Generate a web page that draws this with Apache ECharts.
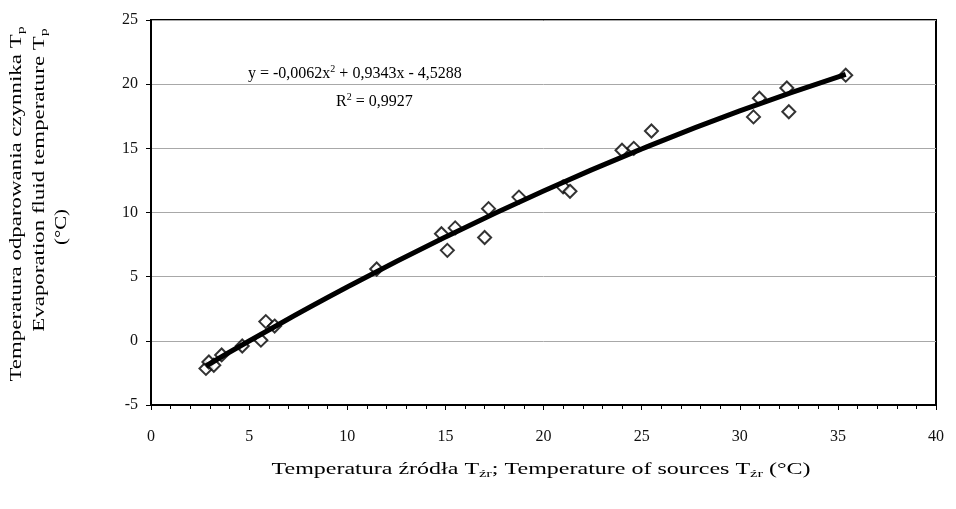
<!DOCTYPE html>
<html><head><meta charset="utf-8">
<script src="https://cdn.jsdelivr.net/npm/echarts@6/dist/echarts.min.js"></script>
<style>html,body{margin:0;padding:0;background:#fff}#c{width:956px;height:509px}</style>
</head><body><div id="c"></div>
<script>
// Measured points (x: source temperature, y: evaporation fluid temperature)
const pointX = [2.8, 2.95, 3.2, 3.6, 4.65, 5.6, 5.85, 6.3, 11.5, 14.8, 15.1, 15.5, 17.0, 17.2, 18.75, 21.0, 21.35, 24.0, 24.6, 25.5, 30.7, 31.0, 32.4, 32.5, 35.4];
const pointY = [-2.15, -1.65, -1.9, -1.1, -0.4, 0.05, 1.5, 1.15, 5.6, 8.35, 7.05, 8.8, 8.05, 10.3, 11.2, 12.0, 11.65, 14.85, 15.0, 16.35, 17.45, 18.9, 19.7, 17.85, 20.7];
// Trend line
const trendX = [2.8, 5, 10, 15, 20, 25, 30, 35.4];
const trendY = [-1.96, -0.01, 4.19, 8.09, 11.68, 14.95, 17.92, 20.77];
const xTicks = [0, 5, 10, 15, 20, 25, 30, 35, 40];
const yTicks = [-5, 0, 5, 10, 15, 20, 25];

const serif = '"Liberation Serif", "DejaVu Serif", serif';
const chart = echarts.init(document.getElementById('c'));
const richBase = {
  n: {fontFamily: serif, fontSize: 16, color: '#111', lineHeight: 20},
  sup: {fontFamily: serif, fontSize: 10, color: '#111', verticalAlign: 'top', lineHeight: 20},
  sub: {fontFamily: serif, fontSize: 11, color: '#111', verticalAlign: 'bottom', lineHeight: 20}
};
chart.setOption({
  animation: false,
  backgroundColor: '#fff',
  grid: {left: 151, right: 20, top: 20, bottom: 104, show: true, borderColor: '#000', borderWidth: 2, backgroundColor: 'transparent'},
  xAxis: {
    type: 'value', min: xTicks[0], max: xTicks[xTicks.length - 1], interval: 5,
    axisLine: {show: true, onZero: false, lineStyle: {color: '#000', width: 2}},
    axisTick: {show: true, length: 5, lineStyle: {color: '#000'}},
    minorTick: {show: true, splitNumber: 5, length: 4, lineStyle: {color: '#000'}},
    axisLabel: {fontFamily: serif, fontSize: 16, color: '#111', margin: 24},
    splitLine: {show: false}
  },
  yAxis: {
    type: 'value', min: yTicks[0], max: yTicks[yTicks.length - 1], interval: 5,
    axisLine: {show: true, onZero: false, lineStyle: {color: '#000', width: 2}},
    axisTick: {show: true, length: 5, lineStyle: {color: '#000'}},
    axisLabel: {fontFamily: serif, fontSize: 16, color: '#111', margin: 13},
    splitLine: {show: true, lineStyle: {color: '#a8a8a8', width: 1}}
  },
  series: [
    {
      type: 'scatter', data: pointX.map((x, i) => [x, pointY[i]]),
      symbol: 'diamond', symbolSize: 13, z: 2,
      itemStyle: {color: '#fff', borderColor: '#000', borderWidth: 2}
    },
    {
      type: 'line', data: trendX.map((x, i) => [x, trendY[i]]), smooth: true,
      showSymbol: false, z: 3, lineStyle: {color: '#000', width: 5}
    }
  ],
  graphic: [
    {type: 'text', left: 248, top: 64, style: {text: '{n|y = -0,0062x}{sup|2}{n| + 0,9343x - 4,5288}', rich: richBase}},
    {type: 'text', left: 336, top: 92, style: {text: '{n|R}{sup|2}{n| = 0,9927}', rich: richBase}},
    {type: 'text', x: 17, y: 204, rotation: Math.PI / 2, scaleX: 1.43, style: {text: '{n|Temperatura odparowania czynnika T}{sub|p}', rich: richBase, align: 'center', verticalAlign: 'middle'}},
    {type: 'text', x: 40, y: 180, rotation: Math.PI / 2, scaleX: 1.43, style: {text: '{n|Evaporation fluid temperature T}{sub|p}', rich: richBase, align: 'center', verticalAlign: 'middle'}},
    {type: 'text', x: 62, y: 227, rotation: Math.PI / 2, scaleX: 1.3, style: {text: '{n|(°C)}', rich: richBase, align: 'center', verticalAlign: 'middle'}},
    {type: 'text', x: 541, y: 470, scaleX: 1.5, style: {text: '{n|Temperatura źródła T}{sub|źr}{n|; Temperature of sources T}{sub|źr}{n| (°C)}', rich: richBase, align: 'center', verticalAlign: 'middle'}}
  ]
});
</script></body></html>
